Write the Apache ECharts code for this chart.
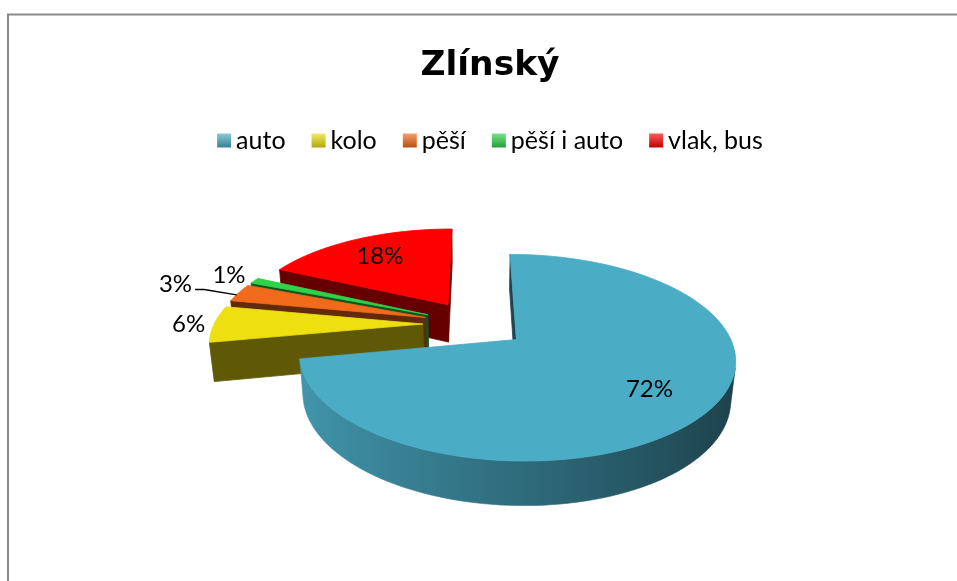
<!DOCTYPE html>
<html><head><meta charset="utf-8">
<script src="https://cdn.jsdelivr.net/npm/echarts@6/dist/echarts.min.js"></script>
<style>html,body{margin:0;padding:0;overflow:hidden;background:#fff}#c{width:980px;height:600px}</style>
</head><body><div id="c"></div>
<script>
const titleText = 'Zlínský';
const categories = ['auto', 'kolo', 'pěší', 'pěší i auto', 'vlak, bus'];
const values = [72, 6, 3, 1, 18];
const colors = ['#4BACC6', '#EDDF10', '#F26A1B', '#30D24A', '#FF0000'];

const VIEW = {cx: 475, cy: 324, F: 1085, D: 5.2, tilt: 27 * Math.PI / 180, H: 0.21, explode: 0.25, steps: 180};
const LABEL = {fontSize: 24, fontFamily: 'Lato', insideR: 0.72, gap: 9, pushExtra: 20};
const sT = Math.sin(VIEW.tilt), cT = Math.cos(VIEW.tilt);
function proj(X, Z, h) {
  const yc = Z * sT + h * cT;
  const w = VIEW.D - Z * cT + h * sT;
  return [VIEW.cx + VIEW.F * X / w, VIEW.cy + VIEW.F * yc / w];
}
function hexRgb(h) { const n = parseInt(h.slice(1), 16); return [(n >> 16) & 255, (n >> 8) & 255, n & 255]; }
function shade(h, k) { const c = hexRgb(h).map(v => Math.max(0, Math.min(255, Math.round(v * k)))); return 'rgb(' + c.join(',') + ')'; }
function lighten(h, k) { const c = hexRgb(h).map(v => Math.round(v + (255 - v) * k)); return 'rgb(' + c.join(',') + ')'; }
function area(p) { let s = 0; for (let i = 0; i < p.length; i++) { const a = p[i], b = p[(i + 1) % p.length]; s += a[0] * b[1] - b[0] * a[1]; } return s / 2; }

const total = values.reduce((a, b) => a + b, 0);
let cum = 0;
const slices = values.map((v, i) => {
  const a0 = 2 * Math.PI * cum / total; cum += v;
  const a1 = 2 * Math.PI * cum / total;
  const am = (a0 + a1) / 2;
  return {i, v, a0, a1, am, ex: VIEW.explode * Math.sin(am), ez: -VIEW.explode * Math.cos(am), depth: -Math.cos(am)};
});
const order = slices.slice().sort((a, b) => a.depth - b.depth).map(s => s.i);
slices.forEach(s => { s.rank = order.indexOf(s.i); });
function pt(sl, r, a, h) { return proj(sl.ex + r * Math.sin(a), sl.ez - r * Math.cos(a), h); }

// label layout
const mctx = document.createElement('canvas').getContext('2d');
mctx.font = LABEL.fontSize + 'px ' + LABEL.fontFamily;
const placed = [];
function overlaps(b) { return placed.some(p => b.x0 < p.x1 && b.x1 > p.x0 && b.y0 < p.y1 && b.y1 > p.y0); }
for (let j = slices.length - 1; j >= 0; j--) {
  const sl = slices[j];
  const txt = Math.round(sl.v / total * 100) + '%';
  const w = mctx.measureText(txt).width, h = LABEL.fontSize * 0.9;
  sl.text = txt;
  if (sl.v / total >= 0.1) {
    const p = pt(sl, LABEL.insideR, sl.am, 0);
    sl.label = p;
    placed.push({x0: p[0] - w / 2, x1: p[0] + w / 2, y0: p[1] - h / 2, y1: p[1] + h / 2});
  } else {
    const anchor = pt(sl, 1, sl.am, 0);
    const apex = pt(sl, 0, sl.am, 0);
    let ux = anchor[0] - apex[0], uy = anchor[1] - apex[1];
    const L = Math.hypot(ux, uy); ux /= L; uy /= L;
    const half = Math.min(Math.abs(ux) > 1e-6 ? w / 2 / Math.abs(ux) : 1e9, Math.abs(uy) > 1e-6 ? h / 2 / Math.abs(uy) : 1e9);
    let d = LABEL.gap + half, moved = false;
    const box = dd => { const cx = anchor[0] + ux * dd, cy = anchor[1] + uy * dd; return {x0: cx - w / 2, x1: cx + w / 2, y0: cy - h / 2, y1: cy + h / 2, cx, cy}; };
    let b = box(d);
    let guard = 0;
    while (overlaps(b) && guard++ < 300) { d += 1; moved = true; b = box(d); }
    if (moved) { d += LABEL.pushExtra; b = box(d); }
    sl.label = [b.cx, b.cy];
    if (moved) {
      const sx = b.x1 + 3, sy = b.cy + 5;
      sl.leader = [[sx, sy], [sx + 9, sy], [anchor[0] - 2, anchor[1] + 2]];
    }
    placed.push(b);
  }
}

function wallColor(c, a) { return shade(c, 0.62 - 0.26 * Math.sin(a)); }

function buildSlice(sl) {
  const c = colors[sl.i];
  const H = VIEW.H;
  const n = Math.max(2, Math.ceil((sl.a1 - sl.a0) / (2 * Math.PI) * VIEW.steps));
  const arcs = [];
  for (let k = 0; k <= n; k++) arcs.push(sl.a0 + (sl.a1 - sl.a0) * k / n);
  const base = 10 + sl.rank * 10;
  const children = [];
  const face = (pts, color, z) => {
    if (area(pts) > 0) children.push({type: 'polygon', shape: {points: pts}, style: {fill: color, stroke: color, lineWidth: 0.8}, z2: z, silent: true});
  };
  const sideCol = shade(c, 0.4);
  face([pt(sl, 1, sl.a0, 0), pt(sl, 0, sl.a0, 0), pt(sl, 0, sl.a0, H), pt(sl, 1, sl.a0, H)], sideCol, base + 1);
  face([pt(sl, 0, sl.a1, 0), pt(sl, 1, sl.a1, 0), pt(sl, 1, sl.a1, H), pt(sl, 0, sl.a1, H)], sideCol, base + 1);
  // outer wall: merge contiguous visible segments into one gradient-filled polygon
  let run = [];
  const flush = () => {
    if (!run.length) return;
    const topPts = [], botPts = [];
    const a0 = run[0][0];
    topPts.push(pt(sl, 1, a0, 0)); botPts.push(pt(sl, 1, a0, H));
    run.forEach(([a, b]) => { topPts.push(pt(sl, 1, b, 0)); botPts.push(pt(sl, 1, b, H)); });
    const poly = topPts.concat(botPts.reverse());
    const xs = poly.map(p => p[0]);
    const minX = Math.min(...xs), maxX = Math.max(...xs);
    const stops = [];
    const angs = [a0].concat(run.map(r => r[1]));
    angs.forEach(a => {
      const x = pt(sl, 1, a, 0)[0];
      stops.push({offset: maxX > minX ? (x - minX) / (maxX - minX) : 0, color: wallColor(c, a)});
    });
    stops.sort((p, q) => p.offset - q.offset);
    const fill = new echarts.graphic.LinearGradient(minX, 0, maxX, 0, stops, true);
    children.push({type: 'polygon', shape: {points: poly}, style: {fill: fill, stroke: fill, lineWidth: 0.6}, z2: base + 2, silent: true});
    run = [];
  };
  for (let k = 0; k < n; k++) {
    const a = arcs[k], b = arcs[k + 1];
    const q = [pt(sl, 1, b, 0), pt(sl, 1, a, 0), pt(sl, 1, a, H), pt(sl, 1, b, H)];
    if (area(q) > 0) run.push([a, b]); else flush();
  }
  flush();
  const top = [pt(sl, 0, 0, 0)].concat(arcs.map(a => pt(sl, 1, a, 0)));
  children.push({type: 'polygon', shape: {points: top}, style: {fill: c, stroke: c, lineWidth: 0.8}, z2: base + 5, silent: true});
  children.push({type: 'text', x: sl.label[0], y: sl.label[1], z2: 500, silent: true,
    style: {text: sl.text, fill: '#000', fontSize: LABEL.fontSize, fontFamily: LABEL.fontFamily, align: 'center', verticalAlign: 'middle'}});
  if (sl.leader) children.push({type: 'polyline', shape: {points: sl.leader}, z2: 500, silent: true, style: {stroke: '#000', lineWidth: 1.3, fill: null}});
  return {type: 'group', children};
}

const chart = echarts.init(document.getElementById('c'), null, {renderer: 'canvas'});
chart.setOption({
  animation: false,
  backgroundColor: '#fff',
  title: {text: titleText, left: 'center', top: 44, textStyle: {fontFamily: 'DejaVu Sans', fontWeight: 'bold', fontSize: 34.5, color: '#000'}},
  legend: {
    top: 123, left: 'center', icon: 'rect', itemWidth: 14, itemHeight: 14, itemGap: 26, selectedMode: false,
    textStyle: {fontSize: 25, fontFamily: 'Lato', color: '#000'},
    data: categories.map((name, i) => ({name, itemStyle: {color: new echarts.graphic.LinearGradient(0, 0, 0, 1, [{offset: 0, color: lighten(colors[i], 0.35)}, {offset: 1, color: shade(colors[i], 0.75)}])}}))
  },
  graphic: [{type: 'rect', shape: {x: 8, y: 14.5, width: 1400, height: 900}, style: {fill: null, stroke: '#8a8a8a', lineWidth: 2}, silent: true, z: 0}],
  series: categories.map((name, i) => ({
    type: 'custom', name, coordinateSystem: 'none', silent: true, z: 2,
    itemStyle: {color: colors[i]},
    data: [[values[i]]],
    renderItem: () => buildSlice(slices[i])
  }))
});
</script></body></html>
